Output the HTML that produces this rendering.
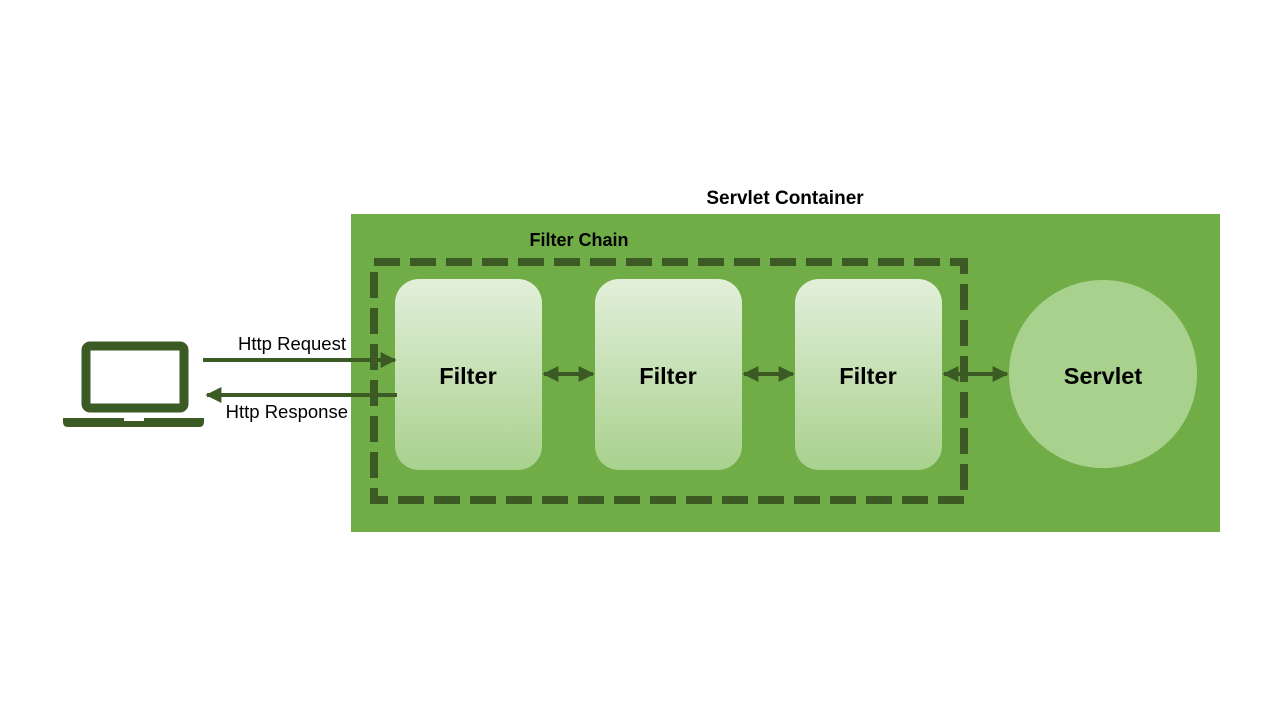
<!DOCTYPE html>
<html><head><meta charset="utf-8"><style>
body{margin:0;background:#fff;}
svg{display:block;}
text{font-family:"Liberation Sans","Noto Sans CJK KR",sans-serif;}
</style></head><body>
<svg width="1280" height="720" viewBox="0 0 1280 720" xmlns="http://www.w3.org/2000/svg">
<defs>
<linearGradient id="g" x1="0" y1="0" x2="0" y2="1">
<stop offset="0" stop-color="#e2efda"/><stop offset="1" stop-color="#a9d18e"/>
</linearGradient>
<marker id="ah" viewBox="0 0 10 10" refX="9" refY="5" markerWidth="4" markerHeight="4" orient="auto-start-reverse" markerUnits="strokeWidth">
<path d="M0,0 L10,5 L0,10 z" fill="#3b5a24"/></marker>
</defs>
<text x="785" y="204" text-anchor="middle" font-size="19" font-weight="bold">Servlet Container</text>
<rect x="351" y="214" width="869" height="318" fill="#70ad47"/>
<text x="579" y="246" text-anchor="middle" font-size="18" font-weight="bold">Filter Chain</text>
<rect x="374" y="262" width="590" height="238" fill="none" stroke="#3b5a24" stroke-width="8" stroke-dasharray="26 10"/>
<rect x="395" y="279" width="147" height="191" rx="24" fill="url(#g)"/>
<rect x="595" y="279" width="147" height="191" rx="24" fill="url(#g)"/>
<rect x="795" y="279" width="147" height="191" rx="24" fill="url(#g)"/>
<circle cx="1103" cy="374" r="94" fill="#a9d18e"/>
<g font-size="23.5" font-weight="bold" text-anchor="middle">
<text x="468" y="384">Filter</text><text x="668" y="384">Filter</text><text x="868" y="384">Filter</text><text x="1103" y="384">Servlet</text>
</g>
<g stroke="#3b5a24" stroke-width="4">
<line x1="544" y1="374" x2="593" y2="374" marker-start="url(#ah)" marker-end="url(#ah)"/>
<line x1="744" y1="374" x2="793" y2="374" marker-start="url(#ah)" marker-end="url(#ah)"/>
<line x1="944" y1="374" x2="1007" y2="374" marker-start="url(#ah)" marker-end="url(#ah)"/>
<line x1="203" y1="360" x2="395" y2="360" marker-end="url(#ah)"/>
<line x1="397" y1="395" x2="207" y2="395" marker-end="url(#ah)"/>
</g>
<text x="346" y="350" text-anchor="end" font-size="18.5">Http Request</text>
<text x="348" y="418" text-anchor="end" font-size="18.5">Http Response</text>
<rect x="86" y="346" width="98" height="62" rx="4" fill="none" stroke="#3b5a24" stroke-width="9"/>
<path d="M63,418 H204 V422 Q204,427 199,427 H68 Q63,427 63,422 Z" fill="#3b5a24"/>
<rect x="124" y="418" width="20" height="3" fill="#fff"/>
</svg>
</body></html>
